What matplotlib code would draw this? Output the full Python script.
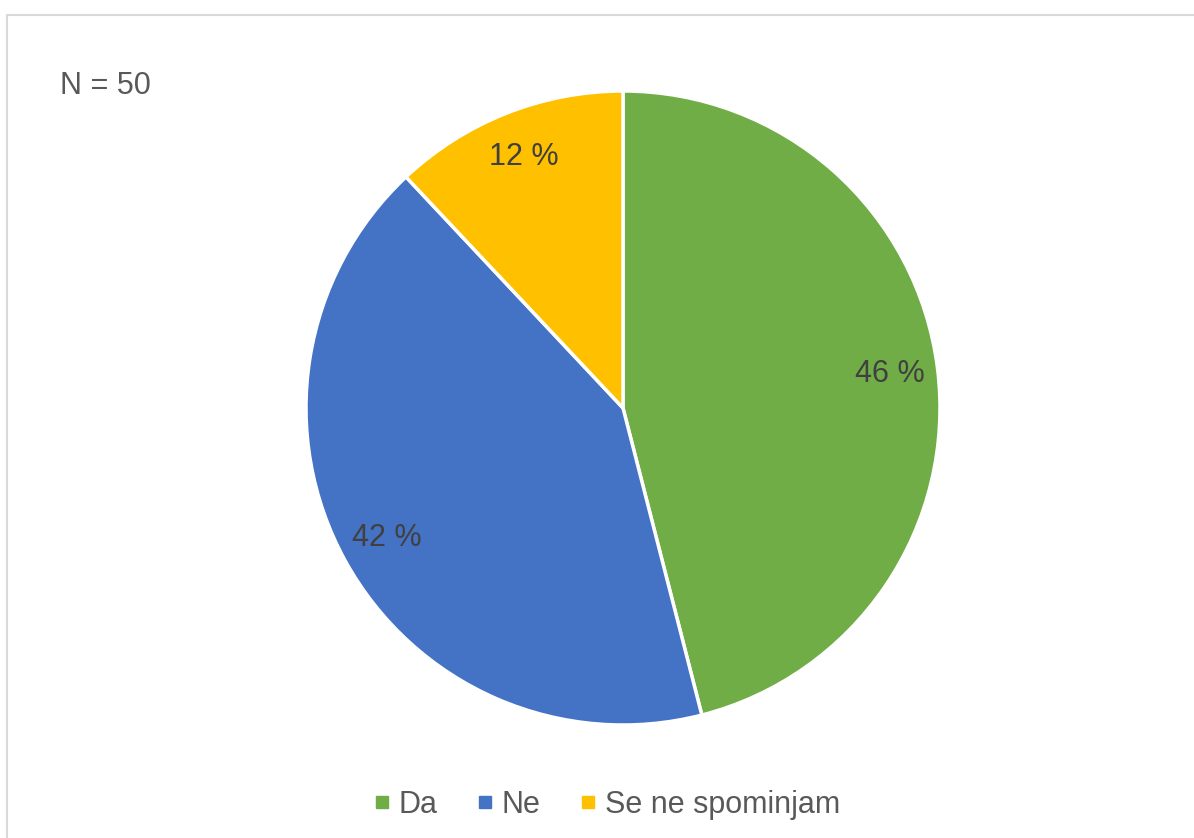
import matplotlib.pyplot as plt
from matplotlib.patches import Rectangle
from matplotlib.lines import Line2D

plt.rcParams['font.family'] = ['Liberation Sans', 'DejaVu Sans']

# podatki
kategorije = ['Da', 'Ne', 'Se ne spominjam']
deleži = [46, 42, 12]
barve = ['#70AD47', '#4472C4', '#FFC000']
n_vzorec = 50

fig = plt.figure(figsize=(11.94, 8.38), dpi=100)

# siv okvir okrog grafa (desni in spodnji rob segata izven slike)
fig.patches.append(Rectangle((6.5 / 1194, -0.1), 1.2, 1 - 15.5 / 838 + 0.1,
                             transform=fig.transFigure, fill=False,
                             edgecolor='#D9D9D9', lw=1.5))

ax = fig.add_axes([(623 - 317) / 1194, (838 - 725) / 838, 634 / 1194, 634 / 838])
wedges, _, autotexts = ax.pie(deleži, colors=barve, startangle=90, counterclock=False,
                              autopct=lambda p: f'{p:.0f} %', pctdistance=0.85,
                              wedgeprops=dict(edgecolor='white', linewidth=2.5),
                              textprops=dict(color='#404040', fontsize=22))
ax.set_xlim(-1, 1)
ax.set_ylim(-1, 1)
ax.set_aspect('equal')

fig.text(60 / 1194, 1 - 86 / 838, f'N = {n_vzorec}', fontsize=22,
         color='#595959', va='center', ha='left')

# legenda
ročaji = [Line2D([], [], marker='s', linestyle='', color=b, markersize=9) for b in barve]
fig.legend(ročaji, kategorije, loc='center', bbox_to_anchor=(607 / 1194, 1 - 805 / 838),
           ncol=3, frameon=False, fontsize=22, labelcolor='#595959',
           handlelength=0.5, handletextpad=0.3, columnspacing=1.3)

fig.savefig('out.png', dpi=100)
